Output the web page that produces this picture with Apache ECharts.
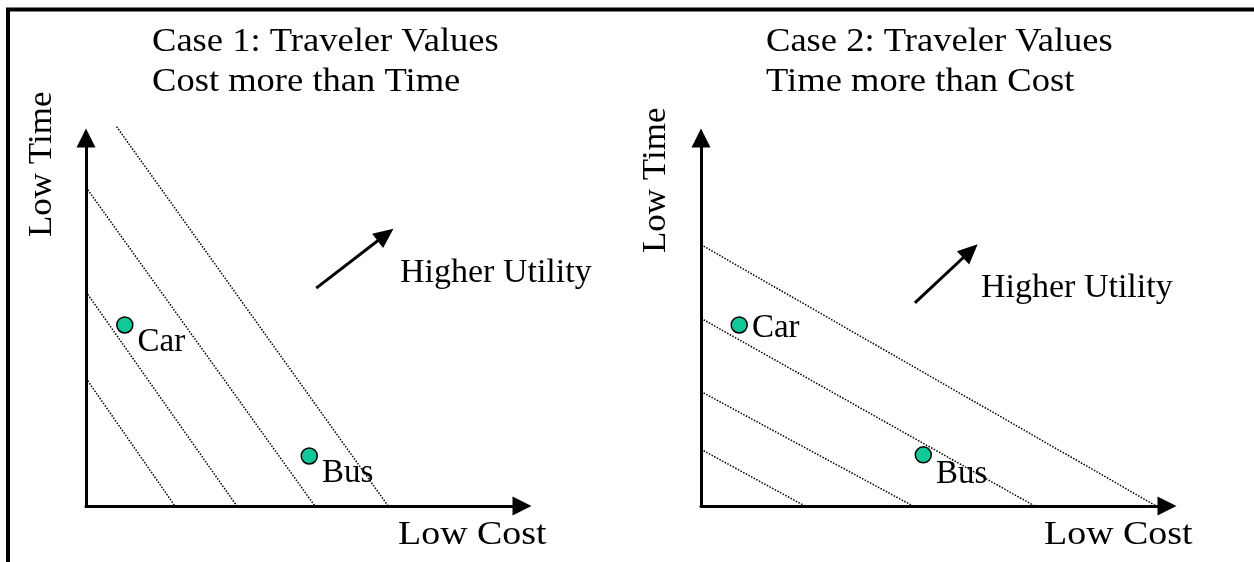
<!DOCTYPE html>
<html lang="en">

<head>
    <meta charset="UTF-8">
    <meta name="viewport" content="width=device-width, initial-scale=1.0">
    <title>Traveler Values</title>
</head>

<body style="height: 100%; margin: 0; background: #fff">
    <div id="main" style="width:1254px;height:562px"></div>
    <script type="text/javascript" src="https://cdn.jsdelivr.net/npm/echarts@6/dist/echarts.min.js"></script>
    <script type="text/javascript">

        // indifference lines, [cost, time] pairs (axes run 0..10)
        var leftLines = [
            [[0.70, 10.31], [6.93, 0]],
            [[0, 8.66], [5.25, 0]],
            [[0, 5.82], [3.46, 0]],
            [[0, 3.47], [2.04, 0]]
        ];
        var rightLines = [
            [[0, 7.10], [9.77, 0]],
            [[0, 5.10], [7.16, 0]],
            [[0, 3.11], [4.55, 0]],
            [[0, 1.54], [2.23, 0]]
        ];

        var modes = ['Car', 'Bus'];
        var leftCost = [0.89, 5.12];
        var leftTime = [4.92, 1.36];
        var rightCost = [0.82, 4.77];
        var rightTime = [4.92, 1.39];

        // "higher utility" arrows: tail, head
        var leftUtility = [[5.28, 5.92], [6.87, 7.37]];
        var rightUtility = [[4.59, 5.52], [5.78, 6.93]];

        var titles = [
            'Case 1: Traveler Values\nCost more than Time',
            'Case 2: Traveler Values\nTime more than Cost'
        ];
        var xName = 'Low Cost';
        var yName = 'Low Time';
        var arrowText = 'Higher Utility';

        var FONT = '"Liberation Serif", "Times New Roman", serif';

        var chartDom = document.getElementById('main');
        var myChart = echarts.init(chartDom);

        function axis(idx) {
            return {
                type: 'value',
                gridIndex: idx,
                min: 0,
                max: 10,
                axisLine: {
                    show: true,
                    symbol: ['none', 'triangle'],
                    symbolSize: [19, 19],
                    lineStyle: { color: '#000', width: 3 }
                },
                axisTick: { show: false },
                axisLabel: { show: false },
                splitLine: { show: false }
            };
        }

        function dotted(lines, idx) {
            return lines.map(function (pts) {
                return {
                    type: 'line',
                    xAxisIndex: idx,
                    yAxisIndex: idx,
                    data: pts,
                    symbol: 'none',
                    clip: false,
                    silent: true,
                    lineStyle: { color: '#000', width: 1.5, type: 'dotted' }
                };
            });
        }

        // vertical nudge of the Car / Bus labels
        var labelDy = [[17, 17], [3, 19]];

        function points(cost, time, utility, idx) {
            return {
                type: 'scatter',
                xAxisIndex: idx,
                yAxisIndex: idx,
                clip: false,
                data: modes.map(function (m, i) {
                    return { name: m, value: [cost[i], time[i]], label: { offset: [0, labelDy[idx][i]] } };
                }),
                symbolSize: 16,
                itemStyle: { color: '#12c79a', borderColor: '#000', borderWidth: 1.5, opacity: 1 },
                label: {
                    show: true,
                    position: 'right',
                    distance: 4,
                    formatter: '{b}',
                    fontFamily: FONT,
                    fontSize: 33,
                    color: '#000'
                },
                markLine: {
                    silent: true,
                    symbol: ['none', 'triangle'],
                    symbolSize: [18, 20],
                    label: { show: false },
                    lineStyle: { color: '#000', width: 3, type: 'solid' },
                    data: [[{ coord: utility[0] }, { coord: utility[1] }]]
                }
            };
        }

        function txt(text, x, y, size, sx, rot, va) {
            return {
                type: 'text',
                x: x,
                y: y,
                rotation: rot || 0,
                scaleX: sx,
                silent: true,
                style: {
                    text: text,
                    fontFamily: FONT,
                    fontSize: size,
                    lineHeight: 40,
                    fill: '#000',
                    align: 'left',
                    verticalAlign: va || 'middle'
                }
            };
        }

        var option = {
            backgroundColor: '#fff',
            animation: false,
            grid: [
                { left: 86, top: 138, width: 436, height: 368, outerBoundsMode: 'none' },
                { left: 701, top: 138, width: 466, height: 368, outerBoundsMode: 'none' }
            ],
            xAxis: [axis(0), axis(1)],
            yAxis: [axis(0), axis(1)],
            graphic: [
                // frame edges
                { type: 'line', silent: true, shape: { x1: 6, y1: 9.5, x2: 1254, y2: 9.5 }, style: { stroke: '#000', lineWidth: 4 } },
                { type: 'line', silent: true, shape: { x1: 8, y1: 8, x2: 8, y2: 562 }, style: { stroke: '#000', lineWidth: 4 } },
                txt(titles[0], 152, 22, 34, 1.075, 0, 'top'),
                txt(titles[1], 766, 22, 34, 1.075, 0, 'top'),
                txt(yName, 42, 237, 33, 1.06, Math.PI / 2),
                txt(yName, 656, 253, 33, 1.06, Math.PI / 2),
                txt(xName, 398, 535.6, 33, 1.15),
                txt(xName, 1044, 535.5, 33, 1.15),
                txt(arrowText, 400, 273.5, 34, 1),
                txt(arrowText, 981, 288.5, 34, 1)
            ],
            series: dotted(leftLines, 0)
                .concat(dotted(rightLines, 1))
                .concat([
                    points(leftCost, leftTime, leftUtility, 0),
                    points(rightCost, rightTime, rightUtility, 1)
                ])
        };

        myChart.setOption(option);

    </script>
</body>

</html>
